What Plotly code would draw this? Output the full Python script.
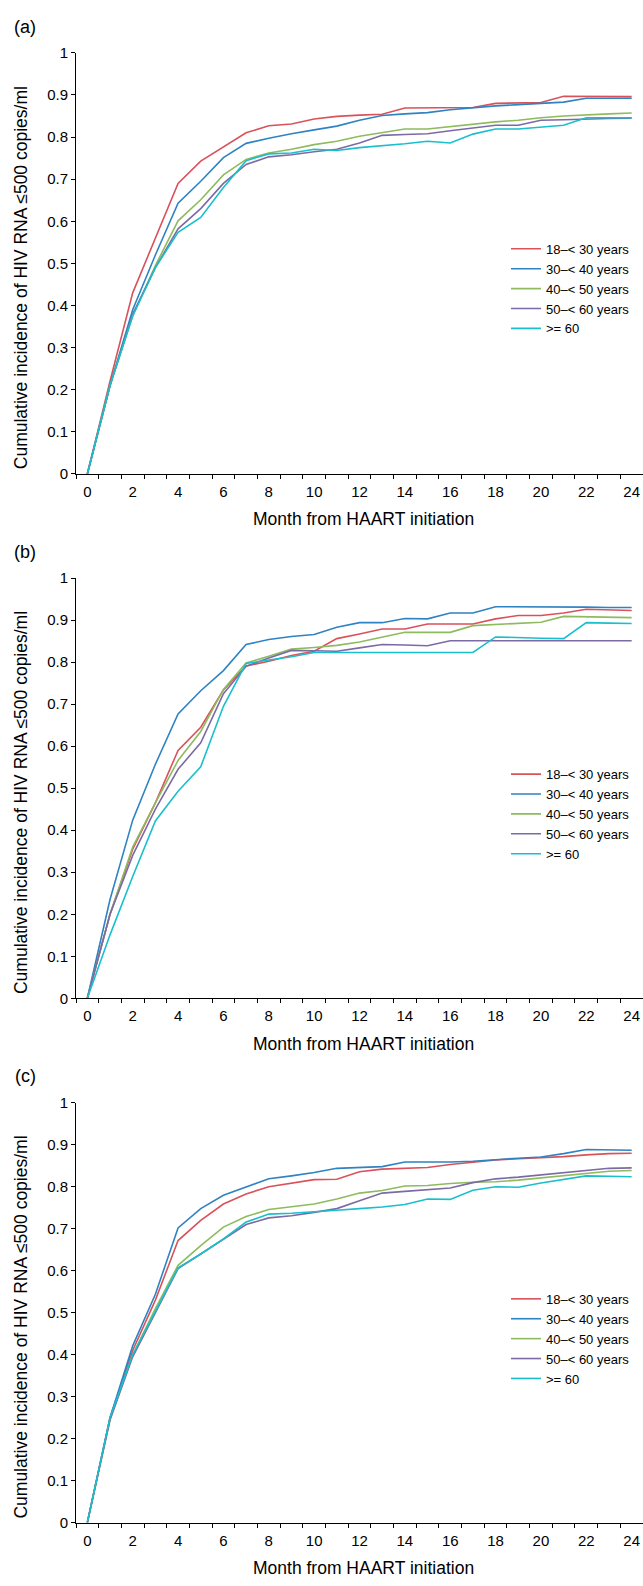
import plotly.graph_objects as go

W, H = 643, 1586

months = list(range(25))
groups = ["18\u2013< 30 years", "30\u2013< 40 years", "40\u2013< 50 years", "50\u2013< 60 years", ">= 60"]
colors = ["#d9525a", "#2e83c2", "#8dbb5e", "#7c6aa6", "#19bfcd"]

# Panel (a)
a_18_30 = [0, 0.22, 0.43, 0.56, 0.69, 0.743, 0.776, 0.810, 0.827, 0.831, 0.843, 0.849, 0.852, 0.854, 0.869, 0.869, 0.869, 0.870, 0.880, 0.881, 0.882, 0.897, 0.897, 0.896, 0.896]
a_30_40 = [0, 0.21, 0.39, 0.52, 0.643, 0.695, 0.751, 0.785, 0.797, 0.808, 0.817, 0.826, 0.840, 0.851, 0.855, 0.858, 0.865, 0.870, 0.874, 0.877, 0.880, 0.883, 0.892, 0.892, 0.892]
a_40_50 = [0, 0.21, 0.375, 0.495, 0.601, 0.651, 0.71, 0.747, 0.762, 0.771, 0.782, 0.790, 0.802, 0.810, 0.819, 0.819, 0.825, 0.831, 0.836, 0.840, 0.846, 0.850, 0.853, 0.855, 0.857]
a_50_60 = [0, 0.21, 0.38, 0.49, 0.582, 0.63, 0.69, 0.735, 0.753, 0.758, 0.765, 0.771, 0.786, 0.804, 0.806, 0.808, 0.815, 0.821, 0.828, 0.828, 0.840, 0.841, 0.843, 0.844, 0.845]
a_60 = [0, 0.21, 0.375, 0.49, 0.574, 0.609, 0.68, 0.744, 0.760, 0.762, 0.771, 0.768, 0.775, 0.779, 0.784, 0.790, 0.786, 0.807, 0.819, 0.819, 0.823, 0.828, 0.846, 0.846, 0.846]

# Panel (b)
b_18_30 = [0, 0.20, 0.355, 0.465, 0.590, 0.645, 0.734, 0.791, 0.802, 0.816, 0.826, 0.856, 0.867, 0.879, 0.879, 0.891, 0.891, 0.891, 0.903, 0.911, 0.911, 0.917, 0.926, 0.925, 0.923]
b_30_40 = [0, 0.235, 0.424, 0.557, 0.677, 0.732, 0.780, 0.842, 0.854, 0.861, 0.866, 0.883, 0.894, 0.894, 0.904, 0.903, 0.917, 0.917, 0.932, 0.932, 0.932, 0.931, 0.931, 0.930, 0.930]
b_40_50 = [0, 0.20, 0.36, 0.465, 0.566, 0.635, 0.735, 0.798, 0.814, 0.831, 0.835, 0.840, 0.848, 0.859, 0.871, 0.871, 0.871, 0.887, 0.890, 0.893, 0.895, 0.909, 0.908, 0.907, 0.906]
b_50_60 = [0, 0.20, 0.34, 0.45, 0.545, 0.608, 0.725, 0.790, 0.810, 0.828, 0.827, 0.826, 0.834, 0.842, 0.841, 0.839, 0.851, 0.851, 0.851, 0.851, 0.851, 0.851, 0.851, 0.851, 0.851]
b_60 = [0, 0.151, 0.29, 0.422, 0.493, 0.551, 0.695, 0.797, 0.805, 0.813, 0.823, 0.823, 0.823, 0.823, 0.823, 0.823, 0.823, 0.823, 0.860, 0.858, 0.857, 0.856, 0.894, 0.893, 0.892]

# Panel (c)
c_18_30 = [0, 0.25, 0.41, 0.53, 0.672, 0.720, 0.759, 0.783, 0.800, 0.808, 0.817, 0.818, 0.836, 0.842, 0.844, 0.846, 0.853, 0.858, 0.864, 0.867, 0.869, 0.872, 0.876, 0.879, 0.880]
c_30_40 = [0, 0.25, 0.421, 0.544, 0.702, 0.748, 0.780, 0.800, 0.819, 0.826, 0.834, 0.844, 0.846, 0.848, 0.859, 0.859, 0.859, 0.861, 0.865, 0.868, 0.871, 0.879, 0.889, 0.888, 0.887]
c_40_50 = [0, 0.245, 0.40, 0.51, 0.613, 0.66, 0.704, 0.729, 0.746, 0.752, 0.759, 0.771, 0.785, 0.791, 0.802, 0.803, 0.808, 0.811, 0.812, 0.816, 0.821, 0.827, 0.831, 0.837, 0.839]
c_50_60 = [0, 0.245, 0.395, 0.50, 0.605, 0.64, 0.675, 0.710, 0.726, 0.731, 0.739, 0.748, 0.767, 0.785, 0.789, 0.793, 0.797, 0.810, 0.819, 0.823, 0.828, 0.833, 0.839, 0.844, 0.845]
c_60 = [0, 0.25, 0.40, 0.505, 0.607, 0.64, 0.676, 0.716, 0.735, 0.737, 0.740, 0.744, 0.748, 0.752, 0.758, 0.771, 0.770, 0.792, 0.800, 0.799, 0.809, 0.817, 0.826, 0.825, 0.824]

panels = [
    ("(a)", [a_18_30, a_30_40, a_40_50, a_50_60, a_60]),
    ("(b)", [b_18_30, b_30_40, b_40_50, b_50_60, b_60]),
    ("(c)", [c_18_30, c_30_40, c_40_50, c_50_60, c_60]),
]

# pixel layout (top of y=1, y=0 baseline, panel label y, x-title y)
panel_px = [
    (44.3, 470.0, 18.0, 516.0),
    (575.3, 1000.0, 549.3, 1046.7),
    (1105.7, 1530.0, 1079.0, 1576.0),
]
x_left = 76.0

FONT = "Liberation Sans, Arial, Helvetica, sans-serif"

def py(px):
    return 1 - px / H

def pxx(px):
    return px / W

fig = go.Figure()
annotations = []
layout = dict(
    width=W, height=H,
    margin=dict(l=0, r=0, t=0, b=0),
    paper_bgcolor="white", plot_bgcolor="white",
    font=dict(family=FONT, color="black"),
    showlegend=True,
)

for i, (label, series) in enumerate(panels):
    n = "" if i == 0 else str(i + 1)
    top, base, lab_y, xt_y = panel_px[i]
    legend_name = "legend" if i == 0 else f"legend{i + 1}"
    for g, vals, col in zip(groups, series, colors):
        fig.add_trace(go.Scatter(
            x=months, y=vals, mode="lines", name=g,
            line=dict(color=col, width=1.6),
            xaxis="x" + n, yaxis="y" + n, legend=legend_name,
        ))
    layout["xaxis" + n] = dict(
        domain=[pxx(x_left), 1.0], range=[-0.5, 24.5],
        anchor="y" + n,
        tickvals=list(range(0, 25, 2)), ticktext=[str(v) for v in range(0, 25, 2)],
        ticks="outside", ticklen=4, tickcolor="rgba(0,0,0,0)",
        minor=dict(tickvals=[m - 0.5 for m in range(26)], ticks="outside", ticklen=4,
                   tickcolor="black", tickwidth=1, showgrid=False),
        showline=True, linecolor="black", linewidth=1.2,
        showgrid=False, zeroline=False,
        tickfont=dict(size=15, family=FONT, color="black"),
        fixedrange=True,
    )
    layout["yaxis" + n] = dict(
        domain=[py(base), py(top)], range=[0, 1],
        anchor="x" + n,
        tickvals=[k / 10 for k in range(11)],
        ticktext=["0"] + [f"0.{k}" for k in range(1, 10)] + ["1"],
        ticks="outside", ticklen=4, tickcolor="black",
        showline=True, linecolor="black", linewidth=1,
        showgrid=False, zeroline=False,
        tickfont=dict(size=15, family=FONT, color="black"),
        fixedrange=True,
    )
    layout[legend_name] = dict(
        x=pxx(506), xanchor="left", y=py(top + 183), yanchor="top",
        bgcolor="rgba(0,0,0,0)", font=dict(size=13, family=FONT, color="black"),
        itemclick=False, itemdoubleclick=False, tracegroupgap=0,
    )
    annotations.append(dict(text=label, x=pxx(25), y=py(lab_y), xref="paper", yref="paper",
                            showarrow=False, font=dict(size=18, family=FONT, color="black"),
                            xanchor="center", yanchor="middle"))
    annotations.append(dict(text="Month from HAART initiation", x=pxx(363), y=py(xt_y),
                            xref="paper", yref="paper", showarrow=False,
                            font=dict(size=17.5, family=FONT, color="black"),
                            xanchor="center", yanchor="middle"))
    annotations.append(dict(text="Cumulative incidence of HIV RNA \u2264500 copies/ml",
                            x=pxx(21), y=py((top + base) / 2 + 15), xref="paper", yref="paper",
                            showarrow=False, textangle=-90,
                            font=dict(size=17.5, family=FONT, color="black"),
                            xanchor="center", yanchor="middle"))

layout["annotations"] = annotations
fig.update_layout(**layout)
fig.write_html(
    "out.html",
    config={"displayModeBar": False},
    post_script="document.body.style.margin='0';document.body.style.padding='0';"
                "document.documentElement.style.overflow='hidden';document.body.style.overflow='hidden';",
)
